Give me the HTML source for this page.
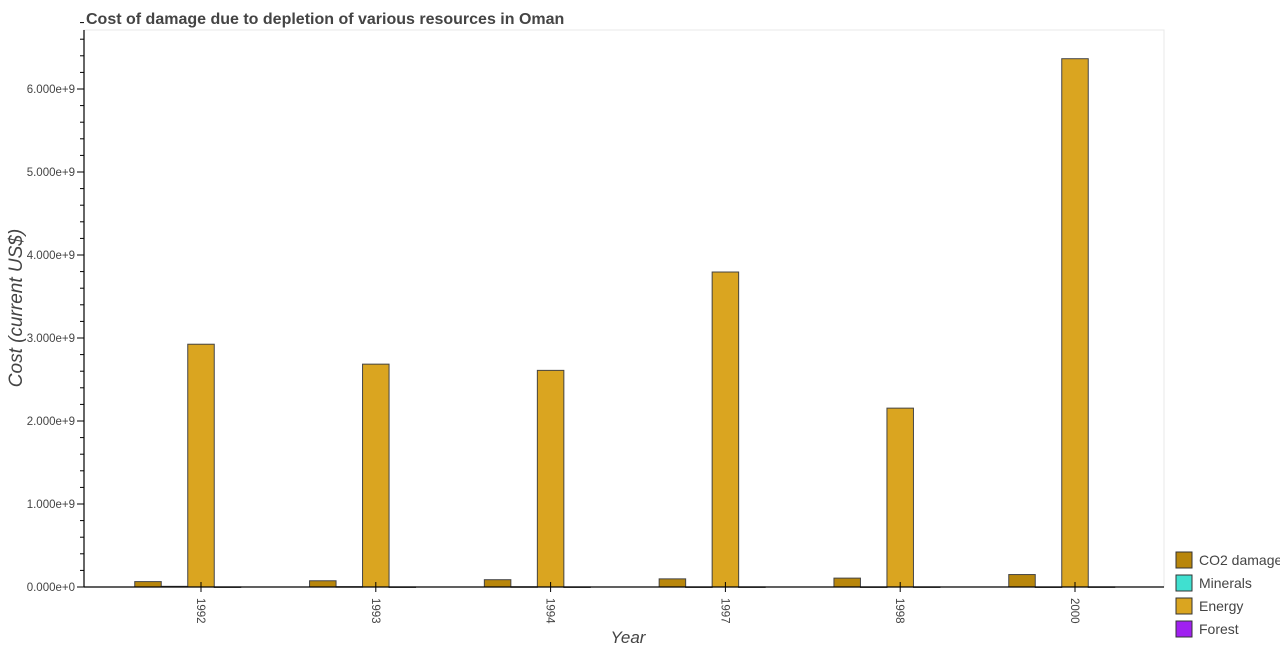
<!DOCTYPE html>
<html><head><meta charset="utf-8"><style>
body{margin:0;background:#fff;font-family:"Liberation Sans",sans-serif}
</style></head><body>
<svg id="chart" width="1280" height="650" xmlns="http://www.w3.org/2000/svg">
<rect x="84" y="30" width="1080" height="557" fill="#fff" stroke="#e8e8e8"/>
<text x="86" y="24" font-size="16" font-weight="bold" fill="#444">Cost of damage due to depletion of various resources in Oman</text>
<g id="yaxis"></g>
<g id="bars"></g>
<g id="xaxis"></g>
<text transform="translate(22,308) rotate(-90)" text-anchor="middle" font-size="19" font-style="italic" fill="#444">Cost (current US$)</text>
<text x="628" y="643" text-anchor="middle" font-size="17" font-style="italic" fill="#444">Year</text>
<g id="legend"></g>
</svg>
<script>
const years=["1992","1993","1994","1997","1998","2000"];
const co2=[6.5e7,7.5e7,8.8e7,9.8e7,1.07e8,1.5e8];
const minerals=[8e6,4e6,3e6,1e6,1e6,5e5];
const energy=[2.925e9,2.685e9,2.61e9,3.795e9,2.155e9,6.365e9];
const forest=[1e6,1e6,1e6,1.2e6,1.2e6,1.5e6];
const yTicks=[0,1e9,2e9,3e9,4e9,5e9,6e9];
const yTickLabels=["0.000e+0","1.000e+9","2.000e+9","3.000e+9","4.000e+9","5.000e+9","6.000e+9"];
const seriesNames=["CO2 damage","Minerals","Energy","Forest"];
const NS="http://www.w3.org/2000/svg";
const x0=84,x1=1164,y0=587,pxPerB=83;
function y(v){return y0-(v/1e9)*pxPerB;}
function xc(i){return 201+174.8*i;}
function mk(t,a,p){const e=document.createElementNS(NS,t);for(const k in a)e.setAttribute(k,a[k]);p.appendChild(e);return e;}
const colors=["#b8860b","#40e0d0","#daa520","#a020f0"];
const series=[co2,minerals,energy,forest];
const bw=26.5;
const gb=document.getElementById('bars');
series.forEach((s,si)=>{s.forEach((v,i)=>{
  const bx=xc(i)+(si-2)*bw-bw/2;
  const r=mk('rect',{x:bx,y:y(v),width:bw,height:Math.max(y0-y(v),0.5),fill:colors[si],stroke:'#444','stroke-width':1},gb);
  
  
});});
const ya=document.getElementById('yaxis');
mk('line',{x1:x0,y1:30,x2:x0,y2:y0,stroke:'#000','stroke-width':1.2},ya);
for(let v=0;v<=6.8e9;v+=2e8){mk('line',{x1:x0-4,y1:y(v),x2:x0,y2:y(v),stroke:'#000'},ya);}
yTicks.forEach((v,i)=>{
  mk('line',{x1:x0-7,y1:y(v),x2:x0,y2:y(v),stroke:'#000'},ya);
  const t=mk('text',{x:x0-9,y:y(v)+4,'text-anchor':'end','font-size':11.5,fill:'#444'},ya);
  t.textContent=yTickLabels[i];
  
  
});
const xa=document.getElementById('xaxis');
mk('line',{x1:x0,y1:y0,x2:x1,y2:y0,stroke:'#000','stroke-width':1.2},xa);
years.forEach((yr,i)=>{
  mk('line',{x1:xc(i),y1:y0-5,x2:xc(i),y2:y0+5,stroke:'#000'},xa);
  const t=mk('text',{transform:`translate(${xc(i)-4},598) rotate(90)`,'font-size':11.5,fill:'#444'},xa);
  t.textContent=yr;
  
  
});
const lg=document.getElementById('legend');
seriesNames.forEach((n,i)=>{
  const ly=552+i*23;
  mk('rect',{x:1176,y:ly,width:16,height:16,fill:colors[i],stroke:'#333'},lg);
  const t=mk('text',{x:1199,y:ly+13,'font-size':14,fill:'#444'},lg);
  t.textContent=n;
  
  
});
</script>
</body></html>
